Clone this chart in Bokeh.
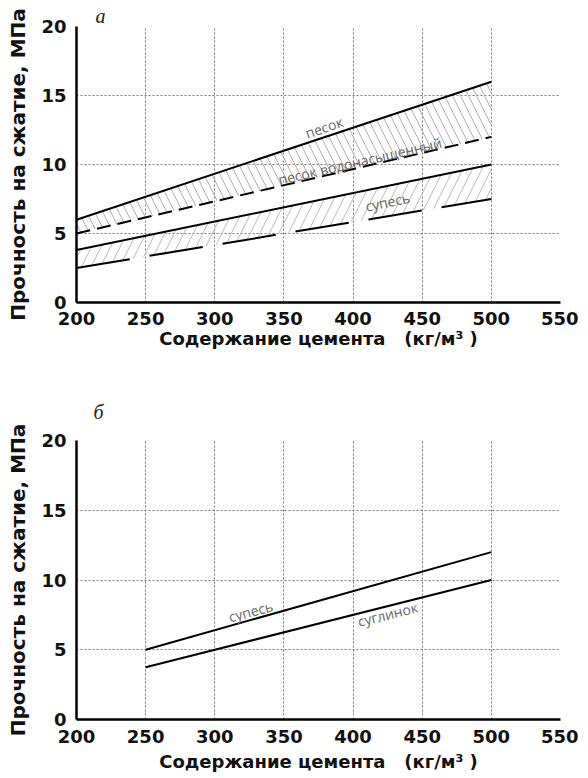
from bokeh.plotting import figure
from bokeh.layouts import column
from bokeh.models import Range1d, FixedTicker, ColumnDataSource
from bokeh.core.properties import value
from bokeh.embed import file_html
from bokeh.resources import INLINE

# ---- data (panel а) ----
cement_a = [200, 500]
sand = [6, 16]                 # песок
sand_saturated = [5, 12]       # песок водонасыщенный
sandy_loam_upper = [3.8, 10]   # супесь (верхняя граница)
sandy_loam_lower = [2.5, 7.5]  # супесь (нижняя граница)

# ---- data (panel б) ----
cement_b = [250, 500]
sandy_loam_b = [5, 12]         # супесь
loam_b = [3.75, 10]            # суглинок

x_ticks = [200, 250, 300, 350, 400, 450, 500, 550]
y_ticks = [0, 5, 10, 15, 20]

labels_a_text = ["песок", "песок водонасыщенный", "супесь"]
labels_a_x = [379, 405, 425]
labels_a_y = [12.7, 10.25, 7.3]
labels_a_angle = [19, 13, 12]

labels_b_text = ["супесь", "суглинок"]
labels_b_x = [326, 425]
labels_b_y = [7.75, 7.55]
labels_b_angle = [15, 14]

panel_titles = ["а", "б"]
x_title = "Содержание цемента\u00a0\u00a0\u00a0(кг/м³\u00a0)"
y_title = "Прочность на сжатие, МПа"

FONT = "DejaVu Sans"


def base_fig(title, title_offset, title_standoff, frame_h, top, bottom,
             xtick_standoff, xlab_standoff):
    p = figure(frame_width=484, frame_height=frame_h, output_backend="svg",
               toolbar_location=None, x_range=Range1d(200, 550), y_range=Range1d(0, 20),
               min_border_left=76, min_border_right=18, min_border_top=top,
               min_border_bottom=bottom, title=title)
    p.title.text_font = "Liberation Serif"
    p.title.text_font_style = "italic"
    p.title.text_font_size = "20px"
    p.title.text_color = "#222222"
    p.title.align = "left"
    p.title.offset = title_offset
    p.title.standoff = title_standoff
    p.outline_line_color = None
    p.background_fill_color = "white"
    p.border_fill_color = "white"
    p.xaxis.ticker = FixedTicker(ticks=x_ticks)
    p.yaxis.ticker = FixedTicker(ticks=y_ticks)
    for ax in (p.xaxis[0], p.yaxis[0]):
        ax.axis_line_color = "black"
        ax.axis_line_width = 2.5
        ax.major_tick_out = 0
        ax.major_tick_in = 0
        ax.minor_tick_out = 0
        ax.minor_tick_in = 0
        ax.major_label_text_font = FONT
        ax.major_label_text_font_style = "bold"
        ax.major_label_text_font_size = "18px"
        ax.major_label_text_color = "#111111"
        ax.axis_label_text_font = FONT
        ax.axis_label_text_font_style = "bold"
        ax.axis_label_text_color = "#111111"
    p.xaxis.axis_label_text_font_size = "18px"
    p.yaxis.axis_label_text_font_size = "20px"
    p.xaxis.major_label_standoff = xtick_standoff
    p.yaxis.major_label_standoff = 10
    p.xaxis.axis_label = x_title
    p.yaxis.axis_label = y_title
    p.xaxis.axis_label_standoff = xlab_standoff
    p.yaxis.axis_label_standoff = 8
    for g in (p.xgrid[0], p.ygrid[0]):
        g.grid_line_color = "#7a7a7a"
        g.grid_line_dash = "2 2"
        g.grid_line_width = 1
    return p


# ---------- panel а ----------
p1 = base_fig(panel_titles[0], 19, 0, 276, 26, 52, 9, 0)

p1.varea(x=cement_a, y1=sand_saturated, y2=sand, fill_alpha=0,
         hatch_pattern="left_diagonal_line", hatch_color="#b0b0b0",
         hatch_weight=1, hatch_scale=16)
p1.varea(x=cement_a, y1=sandy_loam_lower, y2=sandy_loam_upper, fill_alpha=0,
         hatch_pattern="right_diagonal_line", hatch_color="#bababa",
         hatch_weight=1, hatch_scale=19)

p1.line(cement_a, sand, line_color="black", line_width=2)
p1.line(cement_a, sand_saturated, line_color="black", line_width=2, line_dash="14 7")
p1.line(cement_a, sandy_loam_upper, line_color="black", line_width=2)
p1.line(cement_a, sandy_loam_lower, line_color="black", line_width=2, line_dash="54 20")

src_a = ColumnDataSource(dict(x=labels_a_x, y=labels_a_y, t=labels_a_text,
                              a=[v * 3.14159265 / 180 for v in labels_a_angle]))
p1.text(x="x", y="y", text="t", angle="a", source=src_a, text_font=value("Open Sans"),
        text_font_size="14px", text_color="#666666", text_align="center",
        text_baseline="middle")

# ---------- panel б ----------
p2 = base_fig(panel_titles[1], 17, 36, 279, 86, 57, 10, 5)

p2.line(cement_b, sandy_loam_b, line_color="black", line_width=2)
p2.line(cement_b, loam_b, line_color="black", line_width=2)

src_b = ColumnDataSource(dict(x=labels_b_x, y=labels_b_y, t=labels_b_text,
                              a=[v * 3.14159265 / 180 for v in labels_b_angle]))
p2.text(x="x", y="y", text="t", angle="a", source=src_b, text_font=value("Open Sans"),
        text_font_size="14px", text_color="#666666", text_align="center",
        text_baseline="middle")

layout = column(p1, p2, spacing=0)
open("out.html", "w").write(file_html(layout, INLINE))
